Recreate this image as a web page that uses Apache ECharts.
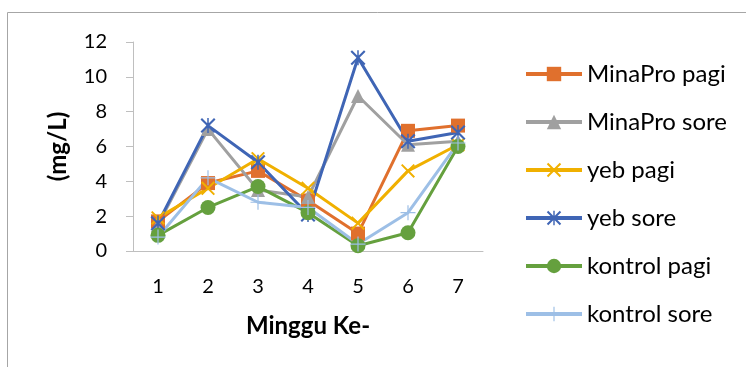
<!DOCTYPE html>
<html>
<head>
<meta charset="utf-8">
<script src="https://cdn.jsdelivr.net/npm/echarts@6/dist/echarts.min.js"></script>
<style>
  html, body { margin: 0; padding: 0; background: #fff; }
  #chart { width: 746px; height: 367px; }
</style>
</head>
<body>
<div id="chart"></div>
<script>
// Weekly measurements (mg/L), morning (pagi) and afternoon (sore)
const weeks = ['1', '2', '3', '4', '5', '6', '7'];
const minaproPagi  = [1.7, 3.9, 4.6, 2.9, 1.0, 6.9, 7.2];
const minaproSore  = [1.5, 7.0, 3.5, 3.1, 8.9, 6.1, 6.3];
const yebPagi      = [1.9, 3.6, 5.3, 3.6, 1.6, 4.6, 6.1];
const yebSore      = [1.6, 7.2, 5.1, 2.1, 11.1, 6.3, 6.8];
const kontrolPagi  = [0.9, 2.5, 3.7, 2.2, 0.3, 1.05, 6.0];
const kontrolSore  = [0.8, 4.2, 2.8, 2.5, 0.4, 2.2, 6.2];

const FONT = 'Lato, "Liberation Sans", sans-serif';

// Thin stroked marker glyphs built as filled outlines
const crossX = 'path://M0,1L1,0L10,9L9,10Z M9,0L10,1L1,10L0,9Z';
const star6 = 'path://M0,1L1,0L10,9L9,10Z M9,0L10,1L1,10L0,9Z M4.5,0H5.5V10H4.5Z';
const plus = 'path://M4.6,0H5.4V10H4.6Z M0,4.6H10V5.4H0Z';

function makeSeries(name, data, color, symbol, size) {
  return {
    name: name,
    type: 'line',
    data: data,
    symbol: symbol,
    symbolSize: size,
    showAllSymbol: true,
    lineStyle: { color: color, width: 3 },
    itemStyle: { color: color },
    emphasis: { disabled: true }
  };
}

const chart = echarts.init(document.getElementById('chart'));
chart.setOption({
  animation: false,
  graphic: [{
    type: 'rect',
    shape: { x: 7.5, y: 12.5, width: 800, height: 400 },
    style: { fill: 'none', stroke: '#a6a6a6', lineWidth: 1 },
    silent: true
  }],
  grid: { left: 133, right: 263, top: 42, bottom: 116 },
  xAxis: {
    type: 'category',
    data: weeks,
    boundaryGap: true,
    name: 'Minggu Ke-',
    nameLocation: 'middle',
    nameGap: 63,
    nameTextStyle: { fontFamily: FONT, fontSize: 24, fontWeight: 'bold', color: '#000' },
    axisLine: { lineStyle: { color: '#bfbfbf', width: 1 } },
    axisTick: { show: false },
    axisLabel: { fontFamily: FONT, fontSize: 20, color: '#000', margin: 26 }
  },
  yAxis: {
    type: 'value',
    min: 0, max: 12, interval: 2,
    name: '(mg/L)',
    nameLocation: 'middle',
    nameRotate: 90,
    nameGap: 63,
    nameTextStyle: { fontFamily: FONT, fontSize: 24, fontWeight: 'bold', color: '#000' },
    axisLine: { show: true, lineStyle: { color: '#bfbfbf', width: 1 } },
    axisTick: { show: true, length: 7, lineStyle: { color: '#bfbfbf' } },
    splitLine: { show: false },
    axisLabel: { fontFamily: FONT, fontSize: 20, color: '#000', margin: 26 }
  },
  legend: {
    orient: 'vertical',
    left: 519,
    top: 55,
    itemWidth: 56,
    itemHeight: 18,
    itemGap: 20,
    lineStyle: { width: 4 },
    textStyle: { fontFamily: FONT, fontSize: 24, color: '#000', lineHeight: 28 },
    data: ['MinaPro pagi', 'MinaPro sore', 'yeb pagi', 'yeb sore', 'kontrol pagi', 'kontrol sore']
  },
  series: [
    makeSeries('MinaPro pagi', minaproPagi, '#e0702d', 'rect', 14),
    makeSeries('MinaPro sore', minaproSore, '#a0a0a0', 'triangle', 14),
    makeSeries('yeb pagi', yebPagi, '#f0b000', crossX, 14),
    makeSeries('yeb sore', yebSore, '#3f65b5', star6, 15),
    makeSeries('kontrol pagi', kontrolPagi, '#65a03e', 'circle', 15),
    makeSeries('kontrol sore', kontrolSore, '#9dbfe6', plus, 15)
  ]
});
</script>
</body>
</html>
